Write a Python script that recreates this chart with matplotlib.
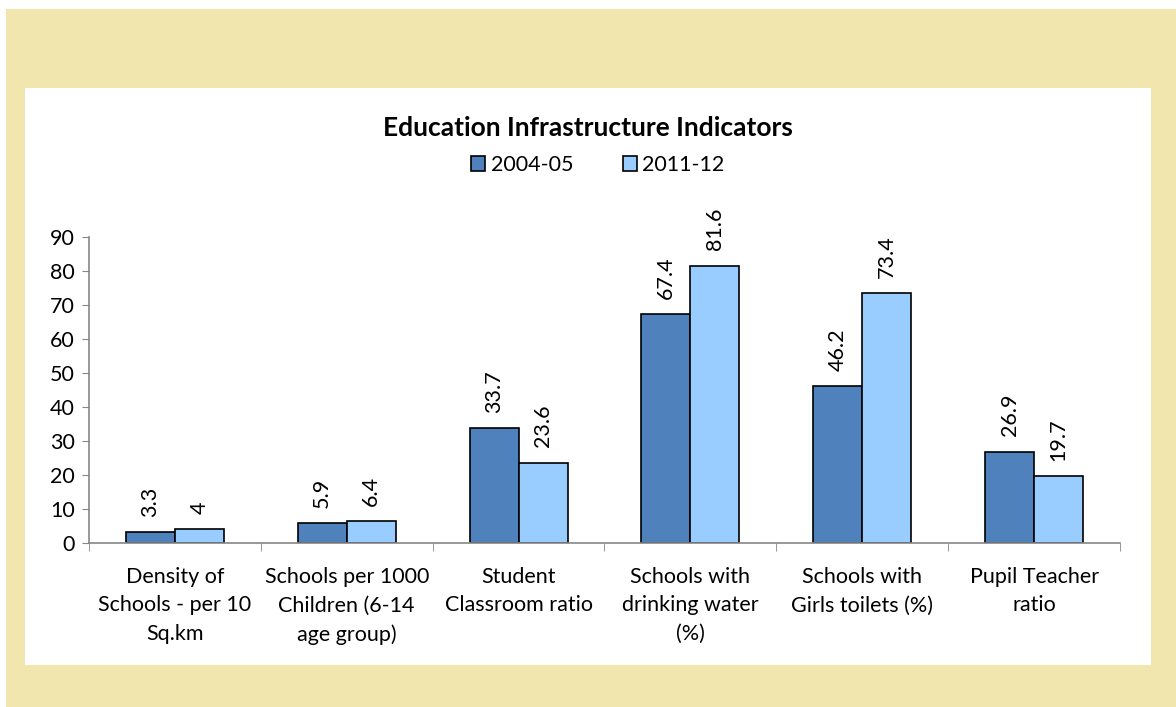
import matplotlib.pyplot as plt
import numpy as np
from matplotlib.patches import Rectangle

plt.rcParams['font.family'] = ['Lato', 'DejaVu Sans']

categories = ["Density of\nSchools - per 10\nSq.km",
              "Schools per 1000\nChildren (6-14\nage group)",
              "Student\nClassroom ratio",
              "Schools with\ndrinking water\n(%)",
              "Schools with\nGirls toilets (%)",
              "Pupil Teacher\nratio"]
series_names = ["2004-05", "2011-12"]
values_0405 = [3.3, 5.9, 33.7, 67.4, 46.2, 26.9]
values_1112 = [4, 6.4, 23.6, 81.6, 73.4, 19.7]
colors = ["#4F81BD", "#99CCFF"]

W, H = 1176, 707
fig = plt.figure(figsize=(W / 100, H / 100), dpi=100, facecolor='white')

# yellow frame and white panel (pixel coords -> figure coords)
def px_rect(x0, y0, x1, y1, color):
    fig.patches.append(Rectangle((x0 / W, 1 - y1 / H), (x1 - x0) / W, (y1 - y0) / H,
                                 transform=fig.transFigure, facecolor=color,
                                 edgecolor='none', zorder=-10))

px_rect(6, 9, W, H, "#F0E6AE")
px_rect(25, 88, 1151, 665, "white")

ax_l, ax_r, ax_t, ax_b = 89, 1120, 237, 543
ax = fig.add_axes([ax_l / W, 1 - ax_b / H, (ax_r - ax_l) / W, (ax_b - ax_t) / H])
ax.set_facecolor('none')

x = np.arange(len(categories))
bw = 0.285
b1 = ax.bar(x - bw / 2, values_0405, bw, color=colors[0], edgecolor='black',
            linewidth=1.2, label=series_names[0])
b2 = ax.bar(x + bw / 2, values_1112, bw, color=colors[1], edgecolor='black',
            linewidth=1.2, label=series_names[1])

for bars, vals in [(b1, values_0405), (b2, values_1112)]:
    for rect, v in zip(bars, vals):
        ax.annotate(f"{v:g}", (rect.get_x() + rect.get_width() / 2, v),
                    xytext=(0, 11), textcoords='offset points', rotation=90,
                    ha='center', va='bottom', fontsize=15.5)

ax.set_xlim(-0.5, len(categories) - 0.5)
ax.set_ylim(0, 90)
ax.set_yticks(range(0, 91, 10))
ax.set_xticks(x)
ax.set_xticklabels(categories, fontsize=15.5, linespacing=1.55)
ax.set_xticks(np.arange(-0.5, len(categories)), minor=True)
ax.tick_params(axis='x', which='major', length=0, pad=17)
ax.tick_params(axis='x', which='minor', length=6, color='#868686', direction='out')
ax.tick_params(axis='y', length=5, color='#868686', labelsize=15.5, pad=5)
for s in ['top', 'right']:
    ax.spines[s].set_visible(False)
for s in ['left', 'bottom']:
    ax.spines[s].set_color('#868686')
    ax.spines[s].set_linewidth(1.2)

fig.text(588 / W, 1 - 128 / H, "Education Infrastructure Indicators",
         ha='center', va='center', fontsize=19, fontweight='bold')
fig.legend(handles=[b1, b2], loc='center', bbox_to_anchor=(598 / W, 1 - 165 / H),
           ncol=2, frameon=False, fontsize=15.5, handlelength=0.65, handleheight=0.65,
           handletextpad=0.25, columnspacing=2.3)

fig.savefig('out.png', dpi=100, facecolor='white')
